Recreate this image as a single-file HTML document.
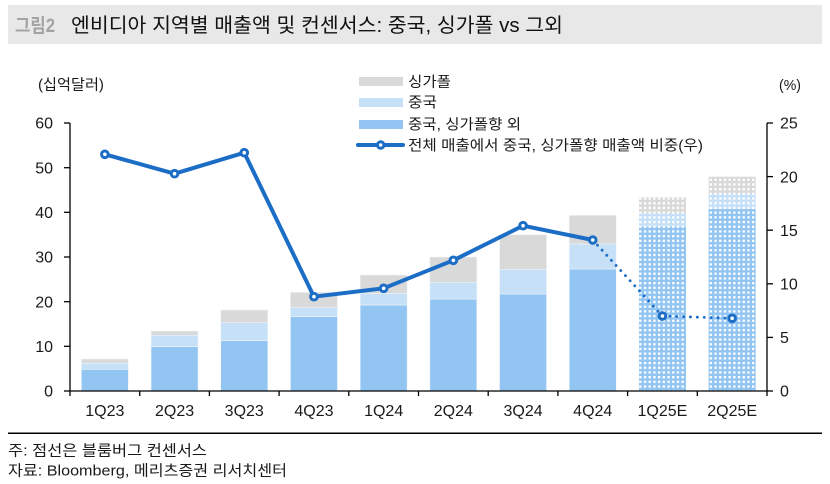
<!DOCTYPE html>
<html><head><meta charset="utf-8"><style>
html,body{margin:0;padding:0;background:#fff;}
svg{display:block;}
text{font-family:"Liberation Sans","Noto Sans CJK KR",sans-serif;fill:#1a1a1a;}
</style></head><body>
<svg width="830" height="484" viewBox="0 0 830 484" xmlns="http://www.w3.org/2000/svg">
<defs>
<pattern id="dots" width="4.7" height="4.7" patternUnits="userSpaceOnUse">
<rect x="0" y="0" width="2.3" height="2.3" fill="#fff"/>
</pattern>
</defs>
<!-- title -->
<rect x="8" y="5" width="814" height="39" fill="#e8e8e8"/>
<text x="15" y="32" font-size="19" font-weight="bold" style="fill:#a3a3a3" textLength="40" lengthAdjust="spacingAndGlyphs">그림2</text>
<text x="71" y="32" font-size="20" style="fill:#111" textLength="492" lengthAdjust="spacingAndGlyphs">엔비디아 지역별 매출액 및 컨센서스: 중국, 싱가폴 vs 그외</text>

<!-- axis titles -->
<text x="38" y="89.5" font-size="15" textLength="66" lengthAdjust="spacingAndGlyphs">(십억달러)</text>
<text x="779" y="90" font-size="15" textLength="22" lengthAdjust="spacingAndGlyphs">(%)</text>

<!-- legend -->
<rect x="359" y="77" width="44" height="9" fill="#d9d9d9"/>
<text x="408" y="87" font-size="14.5" textLength="43" lengthAdjust="spacingAndGlyphs">싱가폴</text>
<rect x="359" y="98" width="44" height="9" fill="#c6e0f8"/>
<text x="408" y="107.5" font-size="14.5" textLength="29" lengthAdjust="spacingAndGlyphs">중국</text>
<rect x="359" y="120" width="44" height="9" fill="#92c5f2"/>
<text x="408" y="129.5" font-size="14.5" textLength="113" lengthAdjust="spacingAndGlyphs">중국, 싱가폴향 외</text>
<line x1="358" y1="145" x2="403" y2="145" stroke="#1c6dc6" stroke-width="4" stroke-linecap="round"/>
<circle cx="380.7" cy="145" r="3.2" fill="#fff" stroke="#1c6dc6" stroke-width="3"/>
<text x="408" y="150.5" font-size="14.5" textLength="295" lengthAdjust="spacingAndGlyphs">전체 매출에서 중국, 싱가폴향 매출액 비중(우)</text>

<!-- bars -->
<g stroke="#eef4fb" stroke-width="0.6">
<!-- 1Q23 -->
<rect x="81.35" y="369.3" width="47" height="21.7" fill="#92c5f2"/>
<rect x="81.35" y="363.3" width="47" height="6" fill="#c6e0f8"/>
<rect x="81.35" y="359" width="47" height="4.3" fill="#d9d9d9"/>
<!-- 2Q23 -->
<rect x="151.05" y="346.7" width="47" height="44.3" fill="#92c5f2"/>
<rect x="151.05" y="335.3" width="47" height="11.4" fill="#c6e0f8"/>
<rect x="151.05" y="331" width="47" height="4.3" fill="#d9d9d9"/>
<!-- 3Q23 -->
<rect x="220.75" y="340.7" width="47" height="50.3" fill="#92c5f2"/>
<rect x="220.75" y="322.7" width="47" height="18" fill="#c6e0f8"/>
<rect x="220.75" y="310" width="47" height="12.7" fill="#d9d9d9"/>
<!-- 4Q23 -->
<rect x="290.45" y="316.7" width="47" height="74.3" fill="#92c5f2"/>
<rect x="290.45" y="307.7" width="47" height="9" fill="#c6e0f8"/>
<rect x="290.45" y="292.3" width="47" height="15.4" fill="#d9d9d9"/>
<!-- 1Q24 -->
<rect x="360.15" y="305" width="47" height="86" fill="#92c5f2"/>
<rect x="360.15" y="293.3" width="47" height="11.7" fill="#c6e0f8"/>
<rect x="360.15" y="275" width="47" height="18.3" fill="#d9d9d9"/>
<!-- 2Q24 -->
<rect x="429.85" y="299" width="47" height="92" fill="#92c5f2"/>
<rect x="429.85" y="282.3" width="47" height="16.7" fill="#c6e0f8"/>
<rect x="429.85" y="257" width="47" height="25.3" fill="#d9d9d9"/>
<!-- 3Q24 -->
<rect x="499.55" y="294" width="47" height="97" fill="#92c5f2"/>
<rect x="499.55" y="269.3" width="47" height="24.7" fill="#c6e0f8"/>
<rect x="499.55" y="234.7" width="47" height="34.6" fill="#d9d9d9"/>
<!-- 4Q24 -->
<rect x="569.25" y="269" width="47" height="122" fill="#92c5f2"/>
<rect x="569.25" y="244" width="47" height="25" fill="#c6e0f8"/>
<rect x="569.25" y="215.3" width="47" height="28.7" fill="#d9d9d9"/>
</g>
<!-- estimates (patterned) -->
<g>
<rect x="638.95" y="226.7" width="47" height="164.3" fill="#92c5f2"/>
<rect x="638.95" y="213.3" width="47" height="13.4" fill="#c6e0f8"/>
<rect x="638.95" y="197.3" width="47" height="16" fill="#d9d9d9"/>
<rect x="638.95" y="197.3" width="47" height="193.7" fill="url(#dots)"/>
<rect x="708.65" y="209" width="47" height="182" fill="#92c5f2"/>
<rect x="708.65" y="193.3" width="47" height="15.7" fill="#c6e0f8"/>
<rect x="708.65" y="176.7" width="47" height="16.6" fill="#d9d9d9"/>
<rect x="708.65" y="176.7" width="47" height="214.3" fill="url(#dots)"/>
</g>

<!-- axes -->
<g stroke="#000" stroke-width="1.3" fill="none">
<line x1="70" y1="123" x2="70" y2="391"/>
<line x1="767" y1="123" x2="767" y2="391"/>
<line x1="70" y1="391" x2="767" y2="391"/>
<!-- left ticks -->
<line x1="64" y1="123" x2="70" y2="123"/>
<line x1="64" y1="167.7" x2="70" y2="167.7"/>
<line x1="64" y1="212.3" x2="70" y2="212.3"/>
<line x1="64" y1="257" x2="70" y2="257"/>
<line x1="64" y1="301.7" x2="70" y2="301.7"/>
<line x1="64" y1="346.3" x2="70" y2="346.3"/>
<line x1="64" y1="391" x2="70" y2="391"/>
<!-- right ticks -->
<line x1="767" y1="123" x2="773" y2="123"/>
<line x1="767" y1="176.6" x2="773" y2="176.6"/>
<line x1="767" y1="230.2" x2="773" y2="230.2"/>
<line x1="767" y1="283.8" x2="773" y2="283.8"/>
<line x1="767" y1="337.4" x2="773" y2="337.4"/>
<line x1="767" y1="391" x2="773" y2="391"/>
<!-- x ticks -->
<line x1="70" y1="391" x2="70" y2="396"/>
<line x1="139.7" y1="391" x2="139.7" y2="396"/>
<line x1="209.4" y1="391" x2="209.4" y2="396"/>
<line x1="279.1" y1="391" x2="279.1" y2="396"/>
<line x1="348.8" y1="391" x2="348.8" y2="396"/>
<line x1="418.5" y1="391" x2="418.5" y2="396"/>
<line x1="488.2" y1="391" x2="488.2" y2="396"/>
<line x1="557.9" y1="391" x2="557.9" y2="396"/>
<line x1="627.6" y1="391" x2="627.6" y2="396"/>
<line x1="697.3" y1="391" x2="697.3" y2="396"/>
<line x1="767" y1="391" x2="767" y2="396"/>
</g>

<!-- left labels -->
<g font-size="16" text-anchor="end">
<text x="53" y="128.7">60</text>
<text x="53" y="173.4">50</text>
<text x="53" y="218">40</text>
<text x="53" y="262.7">30</text>
<text x="53" y="307.4">20</text>
<text x="53" y="352">10</text>
<text x="53" y="396.7">0</text>
</g>
<!-- right labels -->
<g font-size="16">
<text x="780" y="128.7">25</text>
<text x="780" y="182.3">20</text>
<text x="780" y="235.9">15</text>
<text x="780" y="289.5">10</text>
<text x="780" y="343.1">5</text>
<text x="780" y="396.7">0</text>
</g>
<!-- x labels -->
<g font-size="16" text-anchor="middle">
<text x="104.85" y="416">1Q23</text>
<text x="174.55" y="416">2Q23</text>
<text x="244.25" y="416">3Q23</text>
<text x="313.95" y="416">4Q23</text>
<text x="383.65" y="416">1Q24</text>
<text x="453.35" y="416">2Q24</text>
<text x="523.05" y="416">3Q24</text>
<text x="592.75" y="416">4Q24</text>
<text x="662.45" y="416">1Q25E</text>
<text x="732.15" y="416">2Q25E</text>
</g>

<!-- line series -->
<polyline points="104.85,154.3 174.55,173.7 244.25,152.7 313.95,296.7 383.65,288.3 453.35,260.3 523.05,225.7 592.75,240" fill="none" stroke="#1c6dc6" stroke-width="4" stroke-linejoin="round"/>
<polyline points="592.75,240 662.45,316 732.15,318.3" fill="none" stroke="#1c6dc6" stroke-width="2.8" stroke-linecap="round" stroke-dasharray="0.1 6.8"/>
<g fill="#fff" stroke="#1c6dc6" stroke-width="3">
<circle cx="104.85" cy="154.3" r="3.3"/>
<circle cx="174.55" cy="173.7" r="3.3"/>
<circle cx="244.25" cy="152.7" r="3.3"/>
<circle cx="313.95" cy="296.7" r="3.3"/>
<circle cx="383.65" cy="288.3" r="3.3"/>
<circle cx="453.35" cy="260.3" r="3.3"/>
<circle cx="523.05" cy="225.7" r="3.3"/>
<circle cx="592.75" cy="240" r="3.3"/>
<circle cx="662.45" cy="316" r="3.3"/>
<circle cx="732.15" cy="318.3" r="3.3"/>
</g>

<!-- separator and notes -->
<line x1="8" y1="433.3" x2="822" y2="433.3" stroke="#000" stroke-width="1.5"/>
<text x="8" y="455.5" font-size="15" textLength="199" lengthAdjust="spacingAndGlyphs">주: 점선은 블룸버그 컨센서스</text>
<text x="8" y="475.5" font-size="15" textLength="279" lengthAdjust="spacingAndGlyphs">자료: Bloomberg, 메리츠증권 리서치센터</text>
</svg>
</body></html>
